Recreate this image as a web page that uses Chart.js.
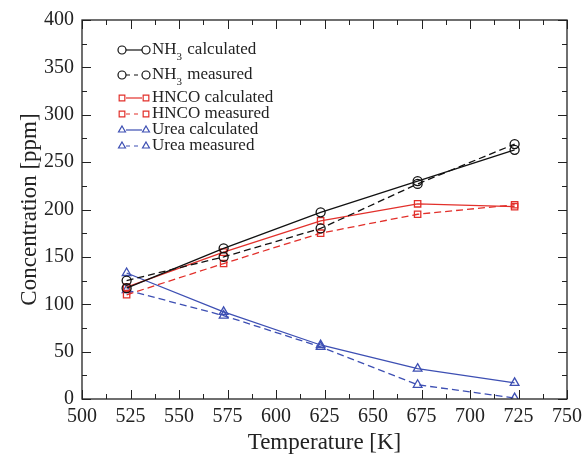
<!DOCTYPE html>
<html>
<head>
<meta charset="utf-8">
<script src="https://cdn.jsdelivr.net/npm/chart.js@4.4.0/dist/chart.umd.min.js"></script>
<style>
  html, body { margin: 0; padding: 0; background: #fff; }
  #wrap { width: 588px; height: 461px; }
</style>
</head>
<body>
<div id="wrap"><canvas id="chart" width="588" height="461"></canvas></div>
<script>
const temps = [523, 573, 623, 673, 723];
const nh3Calc = [117, 159, 197, 230, 263];
const nh3Meas = [125, 150, 180, 227, 269];
const hncoCalc = [118, 155, 188, 206, 203];
const hncoMeas = [110, 143, 175, 195, 205];
const ureaCalc = [133, 92, 57, 32, 17];
const ureaMeas = [115, 88, 55, 15, 1];

const black = '#111111';
const red = '#e2302b';
const blue = '#3d4fb3';
const serif = '"Liberation Serif", "DejaVu Serif", serif';

function pts(vals) {
  return temps.map((t, i) => ({x: t, y: vals[i]}));
}

function series(label, vals, color, style, dashed) {
  return {
    label: label,
    data: pts(vals),
    borderColor: color,
    backgroundColor: 'rgba(255,255,255,0)',
    borderWidth: 1.3,
    borderDash: dashed ? [7, 4] : [],
    pointStyle: style,
    pointRadius: style === 'triangle' ? 5 : 4.5,
    pointBorderWidth: 1.3,
    pointBorderColor: color,
    pointBackgroundColor: 'rgba(255,255,255,0)',
    tension: 0,
    dashed: dashed
  };
}

// draws the inside ticks on all four sides, plus the boxed frame
const frameTicks = {
  id: 'frameTicks',
  afterDraw(chart) {
    const c = chart.ctx, a = chart.chartArea;
    const xs = chart.scales.x, ys = chart.scales.y;
    c.save();
    c.strokeStyle = '#222';
    c.lineWidth = 1.3;
    c.strokeRect(a.left, a.top, a.right - a.left, a.bottom - a.top);
    c.lineWidth = 1;
    c.beginPath();
    for (let v = 500; v <= 750; v += 12.5) {
      const px = Math.round(xs.getPixelForValue(v)) + 0.5;
      const len = (v % 25 === 0) ? 9 : 5;
      c.moveTo(px, a.bottom); c.lineTo(px, a.bottom - len);
      c.moveTo(px, a.top); c.lineTo(px, a.top + len);
    }
    for (let v = 0; v <= 400; v += 25) {
      const py = Math.round(ys.getPixelForValue(v)) + 0.5;
      const len = (v % 50 === 0) ? 9 : 5;
      c.moveTo(a.left, py); c.lineTo(a.left + len, py);
      c.moveTo(a.right, py); c.lineTo(a.right - len, py);
    }
    c.stroke();
    c.restore();
  }
};

// legend drawn by hand so NH3 can carry its subscript
const boxLegend = {
  id: 'boxLegend',
  afterDraw(chart) {
    const c = chart.ctx;
    const rows = [50, 75, 98, 114, 130, 146];
    const x0 = 122, x1 = 146, tx = 152;
    c.save();
    chart.data.datasets.forEach((ds, i) => {
      const y = rows[i];
      c.strokeStyle = ds.borderColor;
      c.fillStyle = 'rgba(255,255,255,0)';
      c.lineWidth = 1.2;
      c.setLineDash(ds.dashed ? [4, 4] : []);
      c.beginPath(); c.moveTo(x0 + 4, y); c.lineTo(x1 - 4, y); c.stroke();
      c.setLineDash([]);
      [x0, x1].forEach(px => {
        Chart.helpers.drawPoint(c, {pointStyle: ds.pointStyle, radius: 4, borderWidth: 1.2}, px, y);
      });
      c.fillStyle = '#222';
      c.textBaseline = 'middle';
      c.textAlign = 'left';
      c.font = '17px ' + serif;
      if (ds.label.startsWith('NH3')) {
        c.fillText('NH', tx, y);
        let w = c.measureText('NH').width;
        c.font = '11px ' + serif;
        c.fillText('3', tx + w, y + 7);
        w += c.measureText('3').width + 1;
        c.font = '17px ' + serif;
        c.fillText(ds.label.slice(3), tx + w, y);
      } else {
        c.fillText(ds.label, tx, y);
      }
    });
    c.restore();
  }
};

new Chart(document.getElementById('chart').getContext('2d'), {
  type: 'line',
  data: {
    datasets: [
      series('NH3 calculated', nh3Calc, black, 'circle', false),
      series('NH3 measured', nh3Meas, black, 'circle', true),
      series('HNCO calculated', hncoCalc, red, 'rect', false),
      series('HNCO measured', hncoMeas, red, 'rect', true),
      series('Urea calculated', ureaCalc, blue, 'triangle', false),
      series('Urea measured', ureaMeas, blue, 'triangle', true)
    ]
  },
  options: {
    responsive: false,
    animation: false,
    layout: { padding: { top: 14, right: 21, left: 0, bottom: 0 } },
    plugins: { legend: { display: false }, tooltip: { enabled: false } },
    scales: {
      x: {
        type: 'linear', min: 500, max: 750,
        ticks: { stepSize: 25, color: '#222', font: { family: serif, size: 20 }, padding: 6, maxRotation: 0 },
        grid: { display: false, drawTicks: false },
        border: { display: false },
        title: { display: true, text: 'Temperature [K]', color: '#222', font: { family: serif, size: 23 }, padding: { top: 2 } },
        afterFit(s) { s.height = 62; }
      },
      y: {
        min: 0, max: 400,
        ticks: { stepSize: 50, color: '#222', font: { family: serif, size: 20 }, padding: 8 },
        grid: { display: false, drawTicks: false },
        border: { display: false },
        title: { display: true, text: 'Concentration [ppm]', color: '#222', font: { family: serif, size: 23 }, padding: { top: 16, bottom: 0 } },
        afterFit(s) { s.width = 82; }
      }
    }
  },
  plugins: [frameTicks, boxLegend]
});
</script>
</body>
</html>
